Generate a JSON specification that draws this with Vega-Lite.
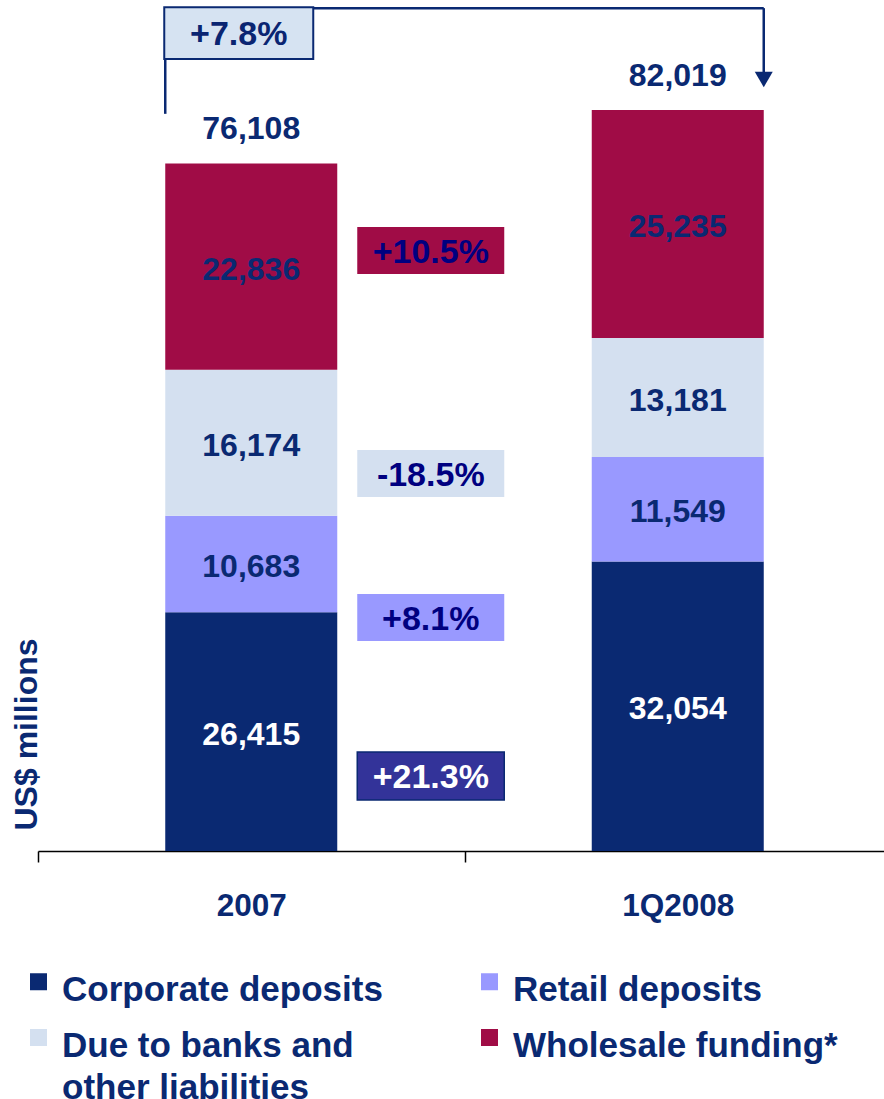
{
  "$schema": "https://vega.github.io/schema/vega-lite/v6.json",
  "width": 853,
  "height": 851,
  "autosize": "none",
  "padding": {"left": 38, "top": 0, "right": 0, "bottom": 248},
  "background": "white",
  "datasets": {
    "bars": [
      {"cat": "2007", "series": "Corporate deposits", "value": 26415},
      {"cat": "2007", "series": "Retail deposits", "value": 10683},
      {"cat": "2007", "series": "Due to banks and other liabilities", "value": 16174},
      {"cat": "2007", "series": "Wholesale funding*", "value": 22836},
      {"cat": "1Q2008", "series": "Corporate deposits", "value": 32054},
      {"cat": "1Q2008", "series": "Retail deposits", "value": 11549},
      {"cat": "1Q2008", "series": "Due to banks and other liabilities", "value": 13181},
      {"cat": "1Q2008", "series": "Wholesale funding*", "value": 25235}
    ],
    "changes": [
      {"cat": "2007", "series": "Wholesale funding*", "label": "+10.5%", "lo": 63870, "hi": 69070},
      {"cat": "2007", "series": "Due to banks and other liabilities", "label": "-18.5%", "lo": 39185, "hi": 44390},
      {"cat": "2007", "series": "Retail deposits", "label": "+8.1%", "lo": 23246, "hi": 28448},
      {"cat": "2007", "series": "Corporate deposits", "label": "+21.3%", "lo": 5645, "hi": 10960}
    ],
    "total": [{"cat": "2007", "label": "+7.8%", "lo": 87670, "hi": 93390}],
    "bracketH": [{"from": "2007", "to": "1Q2008", "y": 93300}],
    "bracketL": [{"cat": "2007", "lo": 81600, "hi": 93300}],
    "bracketR": [{"cat": "1Q2008", "lo": 85900, "hi": 93300, "tip": 85400}]
  },
  "layer": [
    {
      "data": {"name": "bars"},
      "transform": [
        {"calculate": "indexof(['Corporate deposits','Retail deposits','Due to banks and other liabilities','Wholesale funding*'], datum.series)", "as": "ord"}
      ],
      "mark": {"type": "bar", "width": 172},
      "encoding": {
        "x": {"field": "cat", "type": "nominal", "sort": ["2007", "1Q2008"], "scale": {"domain": ["2007", "1Q2008"], "paddingInner": 0, "paddingOuter": 0}, "title": null},
        "y": {"field": "value", "type": "quantitative", "stack": "zero", "scale": {"domain": [0, 94200], "nice": false, "zero": true}, "title": "US$ millions"},
        "color": {
          "field": "series",
          "type": "nominal",
          "scale": {
            "domain": ["Corporate deposits", "Retail deposits", "Due to banks and other liabilities", "Wholesale funding*"],
            "range": ["#0A2972", "#9999FF", "#D4E0F0", "#A00C46"]
          },
          "legend": {
            "title": null,
            "orient": "none",
            "direction": "horizontal",
            "legendX": -17,
            "legendY": 964,
            "columns": 2,
            "columnPadding": 89,
            "rowPadding": 12,
            "padding": 0,
            "symbolType": "square",
            "symbolSize": 289,
            "symbolStrokeWidth": 0,
            "symbolOpacity": 1,
            "labelFont": "Liberation Sans",
            "labelFontSize": 35,
            "labelFontWeight": "bold",
            "labelColor": "#0A2972",
            "labelLimit": 600,
            "labelOffset": 6,
            "labelBaseline": "alphabetic",
            "labelExpr": "datum.label == 'Due to banks and other liabilities' ? ['Due to banks and', 'other liabilities'] : datum.label == 'Wholesale funding*' ? ['Wholesale funding*', ' '] : datum.label",
            "encode": {"labels": {"update": {"dy": {"value": 19}, "lineHeight": {"value": 42}}}}
          }
        },
        "order": {"field": "ord", "type": "quantitative"}
      }
    },
    {
      "data": {"name": "bars"},
      "transform": [
        {"calculate": "indexof(['Corporate deposits','Retail deposits','Due to banks and other liabilities','Wholesale funding*'], datum.series)", "as": "ord"},
        {"stack": "value", "groupby": ["cat"], "sort": [{"field": "ord", "order": "ascending"}], "as": ["v0", "v1"]},
        {"calculate": "(datum.v0 + datum.v1) / 2", "as": "mid"}
      ],
      "mark": {"type": "text", "font": "Liberation Sans", "fontSize": 32, "fontWeight": "bold", "baseline": "middle", "align": "center", "dy": 3},
      "encoding": {
        "x": {"field": "cat", "type": "nominal", "title": null},
        "y": {"field": "mid", "type": "quantitative", "scale": {"domain": [0, 94200], "nice": false, "zero": true}, "title": "US$ millions"},
        "text": {"field": "value", "type": "quantitative", "format": ","},
        "color": {"condition": {"test": "datum.series === 'Corporate deposits'", "value": "#FFFFFF"}, "value": "#0A2972"}
      }
    },
    {
      "data": {"name": "bars"},
      "mark": {"type": "text", "font": "Liberation Sans", "fontSize": 32, "fontWeight": "bold", "baseline": "middle", "align": "center", "dy": -34, "color": "#0A2972"},
      "encoding": {
        "x": {"field": "cat", "type": "nominal", "title": null},
        "y": {"aggregate": "sum", "field": "value", "type": "quantitative", "scale": {"domain": [0, 94200], "nice": false, "zero": true}, "title": "US$ millions"},
        "text": {"aggregate": "sum", "field": "value", "type": "quantitative", "format": ","}
      }
    },
    {
      "data": {"name": "changes"},
      "mark": {"type": "bar", "width": 147, "xOffset": 179.5, "strokeWidth": 1.5},
      "encoding": {
        "x": {"field": "cat", "type": "nominal", "title": null},
        "y": {"field": "lo", "type": "quantitative", "scale": {"domain": [0, 94200], "nice": false, "zero": true}, "title": "US$ millions"},
        "y2": {"field": "hi"},
        "color": {"condition": {"test": "datum.series === 'Corporate deposits'", "value": "#333399"}, "field": "series", "type": "nominal"},
        "stroke": {"condition": {"test": "datum.series === 'Corporate deposits'", "value": "#0A2972"}, "value": null}
      }
    },
    {
      "data": {"name": "changes"},
      "transform": [{"calculate": "(datum.lo + datum.hi) / 2", "as": "mid"}],
      "mark": {"type": "text", "font": "Liberation Sans", "fontSize": 34, "fontWeight": "bold", "baseline": "middle", "align": "center", "xOffset": 179.5, "dy": 2.5},
      "encoding": {
        "x": {"field": "cat", "type": "nominal", "title": null},
        "y": {"field": "mid", "type": "quantitative", "scale": {"domain": [0, 94200], "nice": false, "zero": true}, "title": "US$ millions"},
        "text": {"field": "label", "type": "nominal"},
        "color": {"condition": {"test": "datum.series === 'Corporate deposits'", "value": "#FFFFFF"}, "value": "#000080"}
      }
    },
    {
      "data": {"name": "bracketH"},
      "mark": {"type": "rule", "strokeWidth": 2.5, "color": "#0A2972", "xOffset": -86, "x2Offset": 86},
      "encoding": {
        "x": {"field": "from", "type": "nominal", "title": null},
        "x2": {"field": "to"},
        "y": {"field": "y", "type": "quantitative", "scale": {"domain": [0, 94200], "nice": false, "zero": true}, "title": "US$ millions"}
      }
    },
    {
      "data": {"name": "bracketL"},
      "mark": {"type": "rule", "strokeWidth": 2.5, "color": "#0A2972", "xOffset": -86},
      "encoding": {
        "x": {"field": "cat", "type": "nominal", "title": null},
        "y": {"field": "lo", "type": "quantitative", "scale": {"domain": [0, 94200], "nice": false, "zero": true}, "title": "US$ millions"},
        "y2": {"field": "hi"}
      }
    },
    {
      "data": {"name": "bracketR"},
      "mark": {"type": "rule", "strokeWidth": 2.5, "color": "#0A2972", "xOffset": 86},
      "encoding": {
        "x": {"field": "cat", "type": "nominal", "title": null},
        "y": {"field": "lo", "type": "quantitative", "scale": {"domain": [0, 94200], "nice": false, "zero": true}, "title": "US$ millions"},
        "y2": {"field": "hi"}
      }
    },
    {
      "data": {"name": "bracketR"},
      "mark": {"type": "point", "shape": "triangle-down", "filled": true, "size": 324, "opacity": 1, "color": "#0A2972", "xOffset": 86},
      "encoding": {
        "x": {"field": "cat", "type": "nominal", "title": null},
        "y": {"field": "tip", "type": "quantitative", "scale": {"domain": [0, 94200], "nice": false, "zero": true}, "title": "US$ millions"}
      }
    },
    {
      "data": {"name": "total"},
      "mark": {"type": "bar", "width": 149, "xOffset": -12.5, "color": "#D6E3F2", "stroke": "#0A2972", "strokeWidth": 2},
      "encoding": {
        "x": {"field": "cat", "type": "nominal", "title": null},
        "y": {"field": "lo", "type": "quantitative", "scale": {"domain": [0, 94200], "nice": false, "zero": true}, "title": "US$ millions"},
        "y2": {"field": "hi"}
      }
    },
    {
      "data": {"name": "total"},
      "transform": [{"calculate": "(datum.lo + datum.hi) / 2", "as": "mid"}],
      "mark": {"type": "text", "font": "Liberation Sans", "fontSize": 34, "fontWeight": "bold", "baseline": "middle", "align": "center", "xOffset": -12.5, "dy": 2, "color": "#0A2572"},
      "encoding": {
        "x": {"field": "cat", "type": "nominal", "title": null},
        "y": {"field": "mid", "type": "quantitative", "scale": {"domain": [0, 94200], "nice": false, "zero": true}, "title": "US$ millions"},
        "text": {"field": "label", "type": "nominal"}
      }
    }
  ],
  "config": {
    "view": {"stroke": null},
    "font": "Liberation Sans",
    "axisX": {
      "domainColor": "#000000",
      "domainWidth": 1.5,
      "tickColor": "#000000",
      "tickWidth": 1.5,
      "tickSize": 11,
      "tickBand": "extent",
      "labelFont": "Liberation Sans",
      "labelFontSize": 31.5,
      "labelFontWeight": "bold",
      "labelColor": "#0A2972",
      "labelPadding": 28,
      "labelAngle": 0,
      "grid": false
    },
    "axisY": {
      "domain": false,
      "ticks": false,
      "labels": false,
      "grid": false,
      "titleFont": "Liberation Sans",
      "titleFontSize": 32,
      "titleFontWeight": "bold",
      "titleColor": "#0A2972",
      "titleAngle": -90,
      "titleAlign": "left",
      "titleBaseline": "alphabetic",
      "titleX": -2,
      "titleY": 830
    }
  }
}
